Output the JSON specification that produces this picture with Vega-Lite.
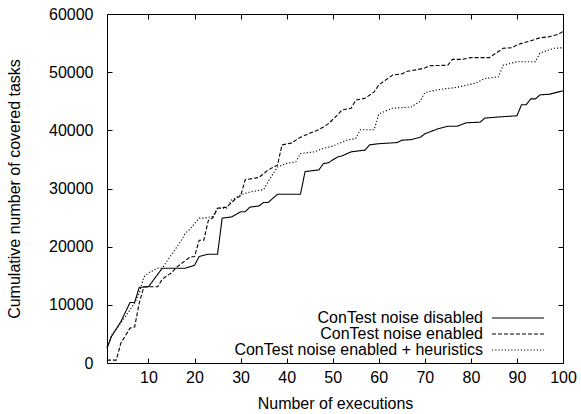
{
  "$schema": "https://vega.github.io/schema/vega-lite/v6.json",
  "width": 456,
  "height": 349,
  "autosize": {"type": "none"},
  "padding": {"left": 107, "top": 14, "right": 18, "bottom": 51},
  "background": "white",
  "config": {
    "font": "Liberation Sans",
    "view": {"stroke": "black", "strokeWidth": 1},
    "axis": {
      "grid": false,
      "domain": false,
      "labelFlush": false,
      "labelOverlap": false,
      "tickColor": "black",
      "tickSize": -5,
      "tickWidth": 1,
      "labelColor": "black",
      "labelFontSize": 16,
      "labelFont": "Liberation Sans",
      "titleFont": "Liberation Sans",
      "titleFontSize": 16,
      "titleFontWeight": "normal",
      "titleColor": "black"
    }
  },
  "data": {
    "values": [
      {"x": 1, "y": 2500, "s": "ConTest noise disabled"},
      {"x": 2, "y": 4600, "s": "ConTest noise disabled"},
      {"x": 4, "y": 7100, "s": "ConTest noise disabled"},
      {"x": 6, "y": 10400, "s": "ConTest noise disabled"},
      {"x": 7, "y": 10400, "s": "ConTest noise disabled"},
      {"x": 8, "y": 13000, "s": "ConTest noise disabled"},
      {"x": 10, "y": 13100, "s": "ConTest noise disabled"},
      {"x": 13, "y": 16300, "s": "ConTest noise disabled"},
      {"x": 18, "y": 16300, "s": "ConTest noise disabled"},
      {"x": 20, "y": 16800, "s": "ConTest noise disabled"},
      {"x": 21, "y": 18300, "s": "ConTest noise disabled"},
      {"x": 23, "y": 18700, "s": "ConTest noise disabled"},
      {"x": 25, "y": 18700, "s": "ConTest noise disabled"},
      {"x": 26, "y": 24900, "s": "ConTest noise disabled"},
      {"x": 28, "y": 25100, "s": "ConTest noise disabled"},
      {"x": 30, "y": 26000, "s": "ConTest noise disabled"},
      {"x": 31, "y": 26000, "s": "ConTest noise disabled"},
      {"x": 32, "y": 26800, "s": "ConTest noise disabled"},
      {"x": 34, "y": 27000, "s": "ConTest noise disabled"},
      {"x": 35, "y": 27600, "s": "ConTest noise disabled"},
      {"x": 36, "y": 27600, "s": "ConTest noise disabled"},
      {"x": 37, "y": 28300, "s": "ConTest noise disabled"},
      {"x": 38, "y": 29000, "s": "ConTest noise disabled"},
      {"x": 43, "y": 29000, "s": "ConTest noise disabled"},
      {"x": 44, "y": 32900, "s": "ConTest noise disabled"},
      {"x": 47, "y": 33200, "s": "ConTest noise disabled"},
      {"x": 48, "y": 34300, "s": "ConTest noise disabled"},
      {"x": 49, "y": 34400, "s": "ConTest noise disabled"},
      {"x": 51, "y": 35400, "s": "ConTest noise disabled"},
      {"x": 52, "y": 35600, "s": "ConTest noise disabled"},
      {"x": 54, "y": 36300, "s": "ConTest noise disabled"},
      {"x": 57, "y": 36600, "s": "ConTest noise disabled"},
      {"x": 58, "y": 37500, "s": "ConTest noise disabled"},
      {"x": 60, "y": 37700, "s": "ConTest noise disabled"},
      {"x": 64, "y": 37900, "s": "ConTest noise disabled"},
      {"x": 65, "y": 38300, "s": "ConTest noise disabled"},
      {"x": 67, "y": 38400, "s": "ConTest noise disabled"},
      {"x": 69, "y": 38800, "s": "ConTest noise disabled"},
      {"x": 70, "y": 39400, "s": "ConTest noise disabled"},
      {"x": 73, "y": 40300, "s": "ConTest noise disabled"},
      {"x": 75, "y": 40700, "s": "ConTest noise disabled"},
      {"x": 77, "y": 40700, "s": "ConTest noise disabled"},
      {"x": 79, "y": 41300, "s": "ConTest noise disabled"},
      {"x": 82, "y": 41400, "s": "ConTest noise disabled"},
      {"x": 83, "y": 42100, "s": "ConTest noise disabled"},
      {"x": 86, "y": 42300, "s": "ConTest noise disabled"},
      {"x": 90, "y": 42500, "s": "ConTest noise disabled"},
      {"x": 91, "y": 44400, "s": "ConTest noise disabled"},
      {"x": 92, "y": 44400, "s": "ConTest noise disabled"},
      {"x": 93, "y": 45400, "s": "ConTest noise disabled"},
      {"x": 94, "y": 45400, "s": "ConTest noise disabled"},
      {"x": 95, "y": 46100, "s": "ConTest noise disabled"},
      {"x": 97, "y": 46200, "s": "ConTest noise disabled"},
      {"x": 100, "y": 46800, "s": "ConTest noise disabled"},

      {"x": 1, "y": 500, "s": "ConTest noise enabled"},
      {"x": 3, "y": 500, "s": "ConTest noise enabled"},
      {"x": 4, "y": 3400, "s": "ConTest noise enabled"},
      {"x": 6, "y": 6000, "s": "ConTest noise enabled"},
      {"x": 7, "y": 6200, "s": "ConTest noise enabled"},
      {"x": 8, "y": 10300, "s": "ConTest noise enabled"},
      {"x": 9, "y": 13100, "s": "ConTest noise enabled"},
      {"x": 12, "y": 13100, "s": "ConTest noise enabled"},
      {"x": 13, "y": 14400, "s": "ConTest noise enabled"},
      {"x": 14, "y": 15000, "s": "ConTest noise enabled"},
      {"x": 15, "y": 15500, "s": "ConTest noise enabled"},
      {"x": 16, "y": 16400, "s": "ConTest noise enabled"},
      {"x": 19, "y": 18200, "s": "ConTest noise enabled"},
      {"x": 20, "y": 18300, "s": "ConTest noise enabled"},
      {"x": 21, "y": 21100, "s": "ConTest noise enabled"},
      {"x": 22, "y": 21100, "s": "ConTest noise enabled"},
      {"x": 23, "y": 24500, "s": "ConTest noise enabled"},
      {"x": 24, "y": 25000, "s": "ConTest noise enabled"},
      {"x": 25, "y": 26600, "s": "ConTest noise enabled"},
      {"x": 27, "y": 26800, "s": "ConTest noise enabled"},
      {"x": 29, "y": 28300, "s": "ConTest noise enabled"},
      {"x": 30, "y": 28700, "s": "ConTest noise enabled"},
      {"x": 31, "y": 31500, "s": "ConTest noise enabled"},
      {"x": 34, "y": 31900, "s": "ConTest noise enabled"},
      {"x": 36, "y": 33200, "s": "ConTest noise enabled"},
      {"x": 38, "y": 34000, "s": "ConTest noise enabled"},
      {"x": 39, "y": 37500, "s": "ConTest noise enabled"},
      {"x": 41, "y": 37800, "s": "ConTest noise enabled"},
      {"x": 43, "y": 38800, "s": "ConTest noise enabled"},
      {"x": 45, "y": 39500, "s": "ConTest noise enabled"},
      {"x": 47, "y": 40100, "s": "ConTest noise enabled"},
      {"x": 49, "y": 41100, "s": "ConTest noise enabled"},
      {"x": 51, "y": 42600, "s": "ConTest noise enabled"},
      {"x": 52, "y": 43500, "s": "ConTest noise enabled"},
      {"x": 54, "y": 43800, "s": "ConTest noise enabled"},
      {"x": 55, "y": 45200, "s": "ConTest noise enabled"},
      {"x": 57, "y": 45500, "s": "ConTest noise enabled"},
      {"x": 59, "y": 46600, "s": "ConTest noise enabled"},
      {"x": 60, "y": 47800, "s": "ConTest noise enabled"},
      {"x": 63, "y": 49500, "s": "ConTest noise enabled"},
      {"x": 65, "y": 49700, "s": "ConTest noise enabled"},
      {"x": 66, "y": 50100, "s": "ConTest noise enabled"},
      {"x": 68, "y": 50400, "s": "ConTest noise enabled"},
      {"x": 70, "y": 50700, "s": "ConTest noise enabled"},
      {"x": 71, "y": 51100, "s": "ConTest noise enabled"},
      {"x": 75, "y": 51200, "s": "ConTest noise enabled"},
      {"x": 76, "y": 52200, "s": "ConTest noise enabled"},
      {"x": 78, "y": 52200, "s": "ConTest noise enabled"},
      {"x": 80, "y": 52500, "s": "ConTest noise enabled"},
      {"x": 84, "y": 52500, "s": "ConTest noise enabled"},
      {"x": 87, "y": 54100, "s": "ConTest noise enabled"},
      {"x": 89, "y": 54200, "s": "ConTest noise enabled"},
      {"x": 90, "y": 54700, "s": "ConTest noise enabled"},
      {"x": 93, "y": 55400, "s": "ConTest noise enabled"},
      {"x": 95, "y": 55900, "s": "ConTest noise enabled"},
      {"x": 97, "y": 56100, "s": "ConTest noise enabled"},
      {"x": 99, "y": 56500, "s": "ConTest noise enabled"},
      {"x": 100, "y": 57000, "s": "ConTest noise enabled"},

      {"x": 1, "y": 2800, "s": "ConTest noise enabled + heuristics"},
      {"x": 2, "y": 4800, "s": "ConTest noise enabled + heuristics"},
      {"x": 3, "y": 5800, "s": "ConTest noise enabled + heuristics"},
      {"x": 5, "y": 8000, "s": "ConTest noise enabled + heuristics"},
      {"x": 7, "y": 10300, "s": "ConTest noise enabled + heuristics"},
      {"x": 8, "y": 12000, "s": "ConTest noise enabled + heuristics"},
      {"x": 9, "y": 14800, "s": "ConTest noise enabled + heuristics"},
      {"x": 10, "y": 15500, "s": "ConTest noise enabled + heuristics"},
      {"x": 12, "y": 16300, "s": "ConTest noise enabled + heuristics"},
      {"x": 13, "y": 16300, "s": "ConTest noise enabled + heuristics"},
      {"x": 14, "y": 17500, "s": "ConTest noise enabled + heuristics"},
      {"x": 17, "y": 20900, "s": "ConTest noise enabled + heuristics"},
      {"x": 18, "y": 22300, "s": "ConTest noise enabled + heuristics"},
      {"x": 19, "y": 23000, "s": "ConTest noise enabled + heuristics"},
      {"x": 21, "y": 24900, "s": "ConTest noise enabled + heuristics"},
      {"x": 22, "y": 24900, "s": "ConTest noise enabled + heuristics"},
      {"x": 24, "y": 25200, "s": "ConTest noise enabled + heuristics"},
      {"x": 25, "y": 26600, "s": "ConTest noise enabled + heuristics"},
      {"x": 27, "y": 26600, "s": "ConTest noise enabled + heuristics"},
      {"x": 28, "y": 28000, "s": "ConTest noise enabled + heuristics"},
      {"x": 30, "y": 28900, "s": "ConTest noise enabled + heuristics"},
      {"x": 32, "y": 29400, "s": "ConTest noise enabled + heuristics"},
      {"x": 35, "y": 29800, "s": "ConTest noise enabled + heuristics"},
      {"x": 36, "y": 31200, "s": "ConTest noise enabled + heuristics"},
      {"x": 38, "y": 33700, "s": "ConTest noise enabled + heuristics"},
      {"x": 40, "y": 34300, "s": "ConTest noise enabled + heuristics"},
      {"x": 42, "y": 34600, "s": "ConTest noise enabled + heuristics"},
      {"x": 43, "y": 36000, "s": "ConTest noise enabled + heuristics"},
      {"x": 46, "y": 36300, "s": "ConTest noise enabled + heuristics"},
      {"x": 48, "y": 36900, "s": "ConTest noise enabled + heuristics"},
      {"x": 50, "y": 37300, "s": "ConTest noise enabled + heuristics"},
      {"x": 53, "y": 38300, "s": "ConTest noise enabled + heuristics"},
      {"x": 55, "y": 38600, "s": "ConTest noise enabled + heuristics"},
      {"x": 56, "y": 40100, "s": "ConTest noise enabled + heuristics"},
      {"x": 59, "y": 40100, "s": "ConTest noise enabled + heuristics"},
      {"x": 60, "y": 42800, "s": "ConTest noise enabled + heuristics"},
      {"x": 63, "y": 43800, "s": "ConTest noise enabled + heuristics"},
      {"x": 67, "y": 44000, "s": "ConTest noise enabled + heuristics"},
      {"x": 69, "y": 45000, "s": "ConTest noise enabled + heuristics"},
      {"x": 70, "y": 46500, "s": "ConTest noise enabled + heuristics"},
      {"x": 73, "y": 47000, "s": "ConTest noise enabled + heuristics"},
      {"x": 77, "y": 47400, "s": "ConTest noise enabled + heuristics"},
      {"x": 81, "y": 48100, "s": "ConTest noise enabled + heuristics"},
      {"x": 83, "y": 48900, "s": "ConTest noise enabled + heuristics"},
      {"x": 86, "y": 49200, "s": "ConTest noise enabled + heuristics"},
      {"x": 87, "y": 51200, "s": "ConTest noise enabled + heuristics"},
      {"x": 90, "y": 51800, "s": "ConTest noise enabled + heuristics"},
      {"x": 94, "y": 51800, "s": "ConTest noise enabled + heuristics"},
      {"x": 95, "y": 53300, "s": "ConTest noise enabled + heuristics"},
      {"x": 98, "y": 54100, "s": "ConTest noise enabled + heuristics"},
      {"x": 100, "y": 54200, "s": "ConTest noise enabled + heuristics"}
    ]
  },
  "layer": [
    {
      "mark": {"type": "line", "color": "black", "strokeWidth": 1.1},
      "encoding": {
        "x": {
          "field": "x", "type": "quantitative",
          "scale": {"domain": [1, 100], "nice": false, "zero": false},
          "axis": {"orient": "bottom", "values": [10, 20, 30, 40, 50, 60, 70, 80, 90, 100], "title": "Number of executions", "labelPadding": 11, "titlePadding": 10}
        },
        "y": {
          "field": "y", "type": "quantitative",
          "scale": {"domain": [0, 60000], "nice": false},
          "axis": {"orient": "left", "values": [0, 10000, 20000, 30000, 40000, 50000, 60000], "format": "d", "title": "Cumulative number of covered tasks", "labelPadding": 19, "titlePadding": 26}
        },
        "strokeDash": {
          "field": "s", "type": "nominal",
          "scale": {
            "domain": ["ConTest noise disabled", "ConTest noise enabled", "ConTest noise enabled + heuristics"],
            "range": [[1, 0], [4, 2], [1.2, 2]]
          },
          "legend": {
            "orient": "none", "legendX": 403, "legendY": 296,
            "title": null, "padding": 0,
            "symbolType": "M-4,0H4", "symbolSize": 169,
            "symbolStrokeColor": "black", "symbolStrokeWidth": 1.1,
            "labelFontSize": 16, "labelColor": "black", "labelFont": "Liberation Sans",
            "labelAlign": "right", "labelOffset": -43, "rowPadding": 0, "labelLimit": 400
          }
        }
      }
    },
    {
      "mark": {"type": "line", "opacity": 0},
      "encoding": {
        "x": {"field": "x", "type": "quantitative", "axis": {"orient": "top", "values": [10, 20, 30, 40, 50, 60, 70, 80, 90, 100], "labels": false, "title": null}},
        "y": {"field": "y", "type": "quantitative", "axis": {"orient": "right", "values": [0, 10000, 20000, 30000, 40000, 50000, 60000], "labels": false, "title": null}},
        "detail": {"field": "s"}
      }
    }
  ]
}
